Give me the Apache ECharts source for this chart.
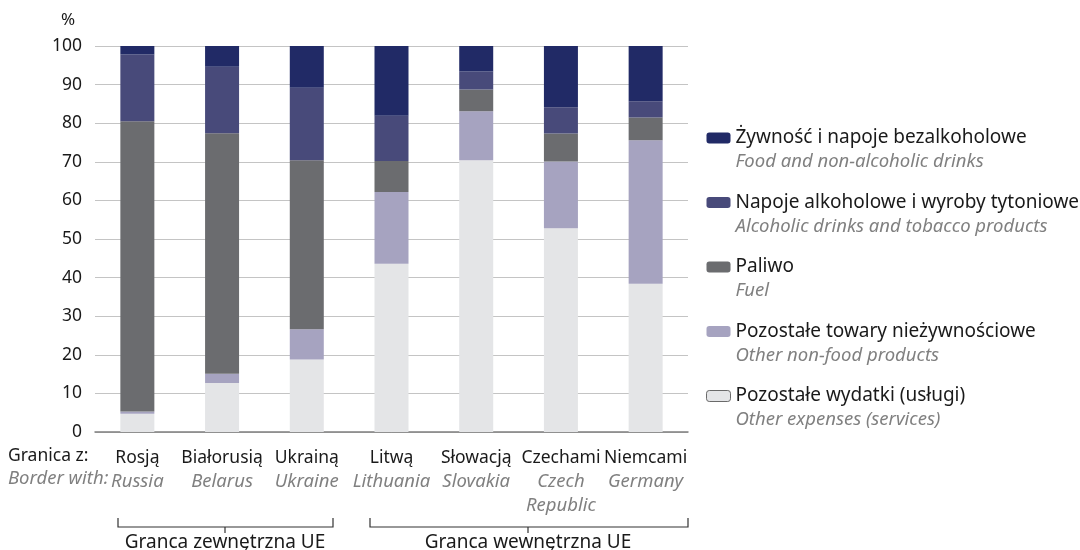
<!DOCTYPE html>
<html><head><meta charset="utf-8">
<script src="https://cdn.jsdelivr.net/npm/echarts@6/dist/echarts.min.js"></script>
<style>html,body{margin:0;padding:0;background:#fff}#c{width:1080px;height:550px}</style>
</head><body><div id="c"></div>
<script>
const categoriesPL = ['Rosją','Białorusią','Ukrainą','Litwą','Słowacją','Czechami','Niemcami'];
const categoriesEN = ['Russia','Belarus','Ukraine','Lithuania','Slovakia','Czech\nRepublic','Germany'];
const yTicks = [0,10,20,30,40,50,60,70,80,90,100];
const services = [4.7, 12.7, 18.8, 43.6, 70.4, 52.8, 38.4];
const nonFood  = [0.6, 2.4, 7.8, 18.6, 12.7, 17.3, 37.2];
const fuel     = [75.2, 62.3, 43.8, 8.0, 5.6, 7.2, 5.9];
const alcohol  = [17.3, 17.2, 18.8, 11.7, 4.7, 6.8, 4.2];
const food     = [2.2, 5.4, 10.8, 18.1, 6.6, 15.9, 14.3];
const seriesNamesPL = ['Pozostałe wydatki (usługi)','Pozostałe towary nieżywnościowe','Paliwo','Napoje alkoholowe i wyroby tytoniowe','Żywność i napoje bezalkoholowe'];
const seriesNamesEN = ['Other expenses (services)','Other non-food products','Fuel','Alcoholic drinks and tobacco products','Food and non-alcoholic drinks'];
const colors = ['#e4e5e7','#a6a3c0','#6b6c6f','#484a7a','#212a66'];
const values = [services, nonFood, fuel, alcohol, food];

const FONT = 'Noto Sans';
const chart = echarts.init(document.getElementById('c'));
const labelMap = {};
categoriesPL.forEach((c,i)=>labelMap[c]=categoriesEN[i]);
const enMap = {};
seriesNamesPL.forEach((n,i)=>enMap[n]=seriesNamesEN[i]);

const series = values.map((v,i)=>({
  name: seriesNamesPL[i], type:'bar', stack:'s', data:v, barWidth:34,
  itemStyle:{color:colors[i]}, emphasis:{disabled:true}
}));

chart.setOption({
  animation:false,
  textStyle:{fontFamily:FONT},
  grid:{left:95, right:392, top:46, bottom:118, containLabel:false},
  xAxis:{type:'category', data:categoriesPL,
    axisLine:{lineStyle:{color:'#7f7f7f', width:1.5}}, axisTick:{show:false},
    axisLabel:{margin:15, interval:0, formatter:(v)=>{
      const en = labelMap[v].split('\n').map(s=>'{b|'+s+'}').join('\n');
      return '{a|'+v+'}\n'+en;},
      rich:{a:{fontSize:17.5, color:'#1a1a1a', lineHeight:23, fontFamily:FONT},
            b:{fontSize:18.5, color:'#808080', fontStyle:'italic', lineHeight:24, fontFamily:FONT}}}},
  yAxis:{type:'value', min:0, max:100, interval:10,
    axisLine:{show:false}, axisTick:{show:false},
    axisLabel:{color:'#1a1a1a', fontSize:17.5, margin:13},
    splitLine:{lineStyle:{color:'#c4c4c4', width:1}}},
  legend:{orient:'vertical', left:706, top:109, padding:0, itemGap:2,
    itemWidth:24, itemHeight:11, selectedMode:false,
    data: [4,3,2,1,0].map(i=>({name:seriesNamesPL[i], itemStyle: i===0?{borderColor:'#6a6a6a', borderWidth:1}:{borderWidth:0}})),
    formatter:(n)=>'{e| }\n{a|'+n+'}\n{b|'+enMap[n]+'}',
    textStyle:{rich:{
      e:{lineHeight:24, fontSize:10},
      a:{fontSize:19, color:'#1a1a1a', lineHeight:24, fontFamily:FONT},
      b:{fontSize:18.5, color:'#808080', fontStyle:'italic', lineHeight:24, fontFamily:FONT}}}},
  graphic:[
    {type:'text', x:68, y:20, style:{text:'%', fill:'#1a1a1a', font:'17px "Noto Sans"', align:'center', verticalAlign:'middle'}},
    {type:'text', left:8, top:447, style:{text:'Granica z:', fill:'#1a1a1a', font:'17.5px "Noto Sans"'}},
    {type:'text', left:8, top:469, style:{text:'Border with:', fill:'#808080', font:'italic 18.5px "Noto Sans"'}},
    {type:'polyline', shape:{points:[[118,518],[118,527],[333,527],[333,518]]}, style:{stroke:'#333', lineWidth:1.2, fill:null}},
    {type:'line', shape:{x1:225,y1:527,x2:225,y2:533}, style:{stroke:'#333', lineWidth:1.2}},
    {type:'polyline', shape:{points:[[370,518],[370,527],[688,527],[688,518]]}, style:{stroke:'#333', lineWidth:1.2, fill:null}},
    {type:'line', shape:{x1:528,y1:527,x2:528,y2:533}, style:{stroke:'#333', lineWidth:1.2}},
    {type:'text', x:225, y:543, style:{text:'Granca zewnętrzna UE', fill:'#1a1a1a', font:'19px "Noto Sans"', align:'center', verticalAlign:'middle'}},
    {type:'text', x:528, y:543, style:{text:'Granca wewnętrzna UE', fill:'#1a1a1a', font:'19px "Noto Sans"', align:'center', verticalAlign:'middle'}}
  ],
  series
});
</script></body></html>
